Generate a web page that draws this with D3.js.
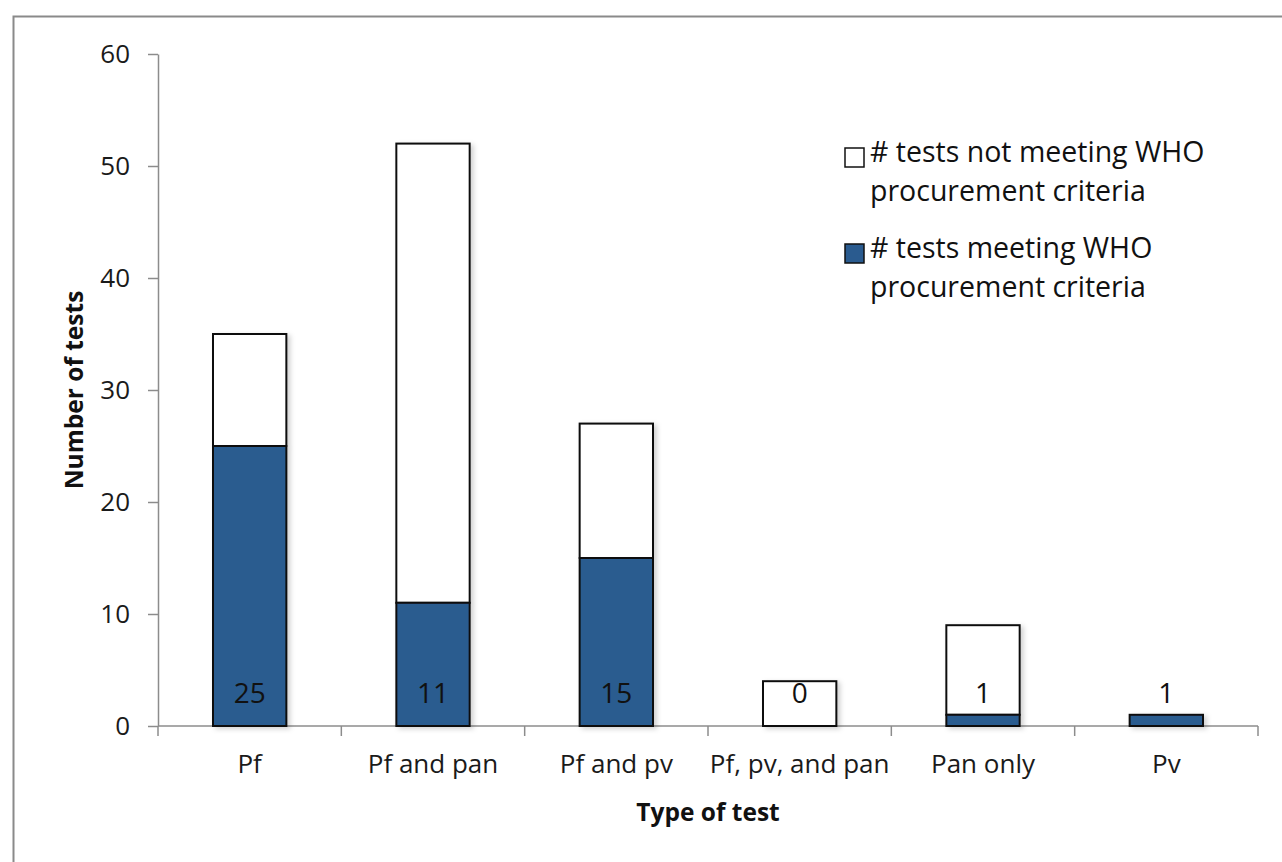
<!DOCTYPE html>
<html>
<head>
<meta charset="utf-8">
<script src="https://cdn.jsdelivr.net/npm/d3@7"></script>
<style>
  html, body { margin: 0; padding: 0; background: #fff; }
  svg { display: block; font-family: "Open Sans", sans-serif; }
</style>
</head>
<body>
<svg id="chart" width="1282" height="862"></svg>
<script>
const categories = ["Pf", "Pf and pan", "Pf and pv", "Pf, pv, and pan", "Pan only", "Pv"];
const meeting = [25, 11, 15, 0, 1, 1];
const notMeeting = [10, 41, 12, 4, 8, 0];
const yTicks = [0, 10, 20, 30, 40, 50, 60];
const seriesNames = ["# tests not meeting WHO|procurement criteria", "# tests meeting WHO|procurement criteria"];

const svg = d3.select("#chart");
const blue = "#2a5b8f";
const axisColor = "#8c8c8c";
const fontSize = 26;
const labelFont = 28;
const legendFont = 28.5;
const titleFont = 24.5;

// outer frame
svg.append("rect").attr("x", 13.5).attr("y", 16.5).attr("width", 1300).attr("height", 900)
  .attr("fill", "#fff").attr("stroke", "#8a8a8a").attr("stroke-width", 2);

const defs = svg.append("defs");
const f = defs.append("filter").attr("id", "shadow").attr("x", "-20%").attr("y", "-20%").attr("width", "150%").attr("height", "150%");
f.append("feDropShadow").attr("dx", 3).attr("dy", 2).attr("stdDeviation", 2.5)
  .attr("flood-color", "#000").attr("flood-opacity", 0.18);

const x = d3.scaleBand().domain(categories).range([158, 1258]).paddingInner(0.6).paddingOuter(0.3);
const y = d3.scaleLinear().domain([0, 60]).range([726, 54]);

// y axis
const yAxis = svg.append("g").attr("transform", `translate(${x.range()[0]},0)`)
  .call(d3.axisLeft(y).tickValues(yTicks).tickSize(10).tickSizeOuter(0).tickPadding(18));
yAxis.select(".domain").attr("stroke", axisColor).attr("stroke-width", 1.5);
yAxis.selectAll(".tick line").attr("stroke", axisColor).attr("stroke-width", 1.5);
yAxis.selectAll(".tick text").attr("font-size", fontSize).attr("fill", "#1a1a1a")
  .attr("font-family", "Open Sans, sans-serif");

// x axis
const xAxis = svg.append("g").attr("transform", `translate(0,${y(0)})`)
  .call(d3.axisBottom(x).tickSize(0).tickSizeOuter(0).tickPadding(29));
xAxis.select(".domain").remove();
xAxis.selectAll(".tick text").attr("font-size", fontSize).attr("fill", "#1a1a1a")
  .attr("font-family", "Open Sans, sans-serif");
const [x0, x1] = x.range();
xAxis.append("line").attr("x1", x0).attr("x2", x1).attr("y1", 0).attr("y2", 0)
  .attr("stroke", axisColor).attr("stroke-width", 1.5);
const boundaries = categories.map((c, i) => x0 + i * x.step());
boundaries.push(x1);
xAxis.selectAll("line.btick").data(boundaries).enter().append("line").attr("class", "btick")
  .attr("x1", d => d).attr("x2", d => d).attr("y1", 0).attr("y2", 10)
  .attr("stroke", axisColor).attr("stroke-width", 1.5);

// bars
const bars = svg.append("g").attr("filter", "url(#shadow)");
categories.forEach((c, i) => {
  const m = meeting[i], n = notMeeting[i];
  if (n > 0) {
    bars.append("rect").attr("x", x(c)).attr("width", x.bandwidth())
      .attr("y", y(m + n)).attr("height", y(m) - y(m + n))
      .attr("fill", "#fff").attr("stroke", "#111").attr("stroke-width", 2);
  }
  if (m > 0) {
    bars.append("rect").attr("x", x(c)).attr("width", x.bandwidth())
      .attr("y", y(m)).attr("height", y(0) - y(m))
      .attr("fill", blue).attr("stroke", "#111").attr("stroke-width", 2);
  }
});

// data labels
svg.append("g").selectAll("text").data(categories).enter().append("text")
  .attr("x", c => x(c) + x.bandwidth() / 2)
  .attr("y", y(0) - 23)
  .attr("text-anchor", "middle").attr("font-size", labelFont).attr("fill", "#111")
  .text((c, i) => meeting[i]);

// axis titles
svg.append("text").attr("transform", `translate(83,390) rotate(-90)`)
  .attr("text-anchor", "middle").attr("font-size", titleFont).attr("font-weight", "bold").attr("fill", "#111")
  .text("Number of tests");
svg.append("text").attr("x", 708).attr("y", 821)
  .attr("text-anchor", "middle").attr("font-size", titleFont).attr("font-weight", "bold").attr("fill", "#111")
  .text("Type of test");

// legend
const legendFills = ["#fff", blue];
const lg = svg.append("g");
seriesNames.forEach((s, i) => {
  const base = 162 + i * 96;
  lg.append("rect").attr("x", 845).attr("y", base - 14).attr("width", 19).attr("height", 19)
    .attr("fill", legendFills[i]).attr("stroke", "#111").attr("stroke-width", 1.5);
  s.split("|").forEach((line, j) => {
    lg.append("text").attr("x", 870).attr("y", base + j * 39)
      .attr("font-size", legendFont).attr("fill", "#111").text(line);
  });
});
</script>
</body>
</html>
